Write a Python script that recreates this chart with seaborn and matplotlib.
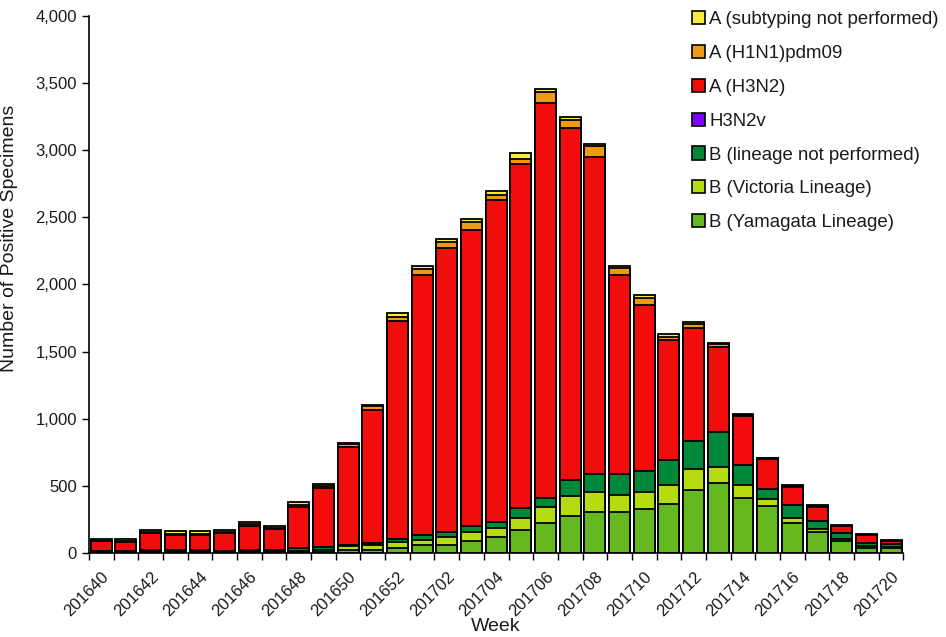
import numpy as np
import matplotlib
matplotlib.use("Agg")
import matplotlib.pyplot as plt
import seaborn as sns
from matplotlib.patches import Patch
from matplotlib.ticker import FixedLocator, FuncFormatter

weeks = ["201640", "201641", "201642", "201643", "201644", "201645", "201646",
         "201647", "201648", "201649", "201650", "201651", "201652",
         "201701", "201702", "201703", "201704", "201705", "201706", "201707",
         "201708", "201709", "201710", "201711", "201712", "201713", "201714",
         "201715", "201716", "201717", "201718", "201719", "201720"]

b_yamagata = [3, 3, 5, 4, 4, 3, 5, 5, 8, 10, 20, 25, 37, 56, 56, 87, 117, 169, 224, 278,
              302, 302, 328, 367, 466, 522, 410, 348, 224, 156, 87, 37, 37]
b_victoria = [2, 2, 3, 3, 3, 2, 4, 4, 6, 8, 30, 32, 45, 42, 60, 70, 70, 92, 119, 144,
              152, 132, 124, 136, 159, 119, 94, 50, 37, 22, 17, 12, 8]
b_not_performed = [12, 10, 15, 12, 12, 10, 15, 15, 25, 25, 12, 17, 25, 32, 40, 42, 42, 70, 67, 124,
                   136, 156, 156, 186, 206, 258, 154, 80, 99, 57, 45, 25, 22]
h3n2v = [0] * 33
a_h3n2 = [70, 70, 125, 115, 117, 135, 180, 157, 300, 440, 724, 992, 1622, 1942, 2116, 2210, 2397,
          2563, 2943, 2620, 2359, 1483, 1242, 894, 844, 633, 360, 218, 132, 104, 50, 57, 20]
a_h1n1pdm09 = [5, 5, 8, 8, 8, 8, 8, 8, 15, 12, 25, 25, 32, 42, 42, 55, 40, 42, 79, 62,
               79, 50, 52, 25, 32, 25, 10, 8, 9, 10, 5, 5, 3]
a_not_subtyped = [12, 10, 14, 18, 16, 12, 15, 13, 22, 15, 9, 12, 25, 20, 27, 27, 27, 40, 20, 17,
                  15, 15, 20, 20, 15, 7, 8, 6, 8, 7, 5, 5, 5]

# bottom to top
series_names = ["B (Yamagata Lineage)", "B (Victoria Lineage)", "B (lineage not performed)",
                "H3N2v", "A (H3N2)", "A (H1N1)pdm09", "A (subtyping not performed)"]
series_values = [b_yamagata, b_victoria, b_not_performed, h3n2v, a_h3n2, a_h1n1pdm09, a_not_subtyped]
series_colors = ["#66B821", "#B5DC10", "#00883A", "#7F00FF", "#F20D0D", "#EE9A12", "#F8EC3A"]

sns.set_style("ticks")
plt.rcParams["font.family"] = ["Liberation Sans", "DejaVu Sans"]

fig = plt.figure(figsize=(9.46, 6.37), dpi=100)
ax = fig.add_axes([0.094, 0.132, 0.861, 0.843])

cum = np.cumsum(np.array(series_values, dtype=float), axis=0)
for i in reversed(range(len(series_names))):
    sns.barplot(x=weeks, y=cum[i], color=series_colors[i], edgecolor="black",
                linewidth=1.3, width=0.85, saturation=1, errorbar=None, ax=ax)

ax.set_xlim(-0.5, len(weeks) - 0.5)
ax.set_ylim(0, 4000)
ax.set_yticks(np.arange(0, 4001, 500))
ax.yaxis.set_major_formatter(FuncFormatter(lambda v, p: f"{v:,.0f}"))
ax.set_xticks(range(0, len(weeks), 2))
ax.set_xticklabels(weeks[::2], rotation=45, ha="right", rotation_mode="anchor")
ax.xaxis.set_minor_locator(FixedLocator(np.arange(-0.5, len(weeks), 1)))
ax.tick_params(axis="x", which="major", length=0, labelsize=12, pad=12, colors="#1a1a1a")
ax.tick_params(axis="x", which="minor", length=5, width=1, color="black", direction="out")
ax.tick_params(axis="y", length=5, width=1, color="black", labelsize=12, labelcolor="#1a1a1a")
for s in ["top", "right"]:
    ax.spines[s].set_visible(False)
for s in ["left", "bottom"]:
    ax.spines[s].set_color("black")
    ax.spines[s].set_linewidth(1.2)

ax.set_xlabel("Week", fontsize=14, color="#1a1a1a")
ax.xaxis.set_label_coords(0.5, -0.145)
ax.xaxis.label.set_verticalalignment("baseline")
ax.set_ylabel("Number of Positive Specimens", fontsize=14, color="#1a1a1a")
ax.yaxis.set_label_coords(-0.087, 0.585)

handles = [Patch(facecolor=c, edgecolor="black", linewidth=1.2) for c in series_colors[::-1]]
fig.legend(handles, series_names[::-1], loc="upper left", bbox_to_anchor=(0.724, 0.995),
           frameon=False, fontsize=13.4, handlelength=0.7, handleheight=0.7,
           handletextpad=0.2, labelspacing=0.91, borderaxespad=0, labelcolor="#1a1a1a")

fig.savefig("out.png", dpi=100)
